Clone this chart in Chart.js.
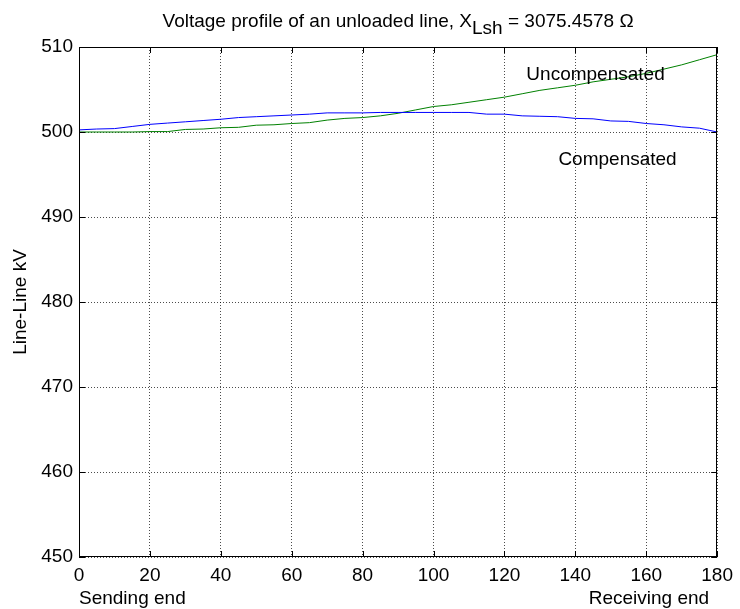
<!DOCTYPE html>
<html><head><meta charset="utf-8">
<script src="https://cdn.jsdelivr.net/npm/chart.js@4"></script>
<style>html,body{margin:0;padding:0;background:#fff}canvas{display:block}</style>
</head><body>
<canvas id="c" width="740" height="609"></canvas>
<script>
// ---- data ----
const positions = [0,5,10,15,20,25,30,35,40,45,50,55,60,65,70,75,80,85,90,95,100,105,110,115,120,125,130,135,140,145,150,155,160,165,170,175,180];
const compensated = [500.25,500.35,500.4,500.65,500.9,501.05,501.2,501.35,501.5,501.7,501.8,501.9,502.0,502.1,502.25,502.25,502.25,502.3,502.3,502.3,502.3,502.3,502.3,502.1,502.1,501.9,501.85,501.8,501.6,501.55,501.3,501.25,501.0,500.85,500.6,500.45,500.0];
const uncompensated = [500.0,500.0,500.0,500.0,500.05,500.05,500.3,500.35,500.5,500.55,500.8,500.85,501.0,501.1,501.4,501.6,501.7,501.9,502.2,502.6,503.0,503.2,503.5,503.8,504.1,504.5,504.9,505.2,505.5,505.9,506.2,506.5,506.9,507.4,507.9,508.5,509.1];
const xTicks = [0,20,40,60,80,100,120,140,160,180];
const yTicks = [450,460,470,480,490,500,510];
const seriesNames = ["Compensated","Uncompensated"];
const titleMain = "Voltage profile of an unloaded line, X";
const titleSub = "Lsh";
const titleRest = " = 3075.4578 \u03A9";
const yTitle = "Line-Line kV";
const endLabels = ["Sending end","Receiving end"];
const annotations = [
  {text:"Uncompensated", x:145.7, y:506.7},
  {text:"Compensated", x:151.9, y:496.7}
];

const FONT = "'Liberation Sans', Arial, Helvetica, sans-serif";
const FS = 19;

const decor = {
  id:'decor',
  afterDraw(chart){
    const ctx = chart.ctx, a = chart.chartArea;
    const xs = chart.scales.x, ys = chart.scales.y;
    ctx.save();
    ctx.strokeStyle = '#000'; ctx.lineWidth = 1;
    // frame
    ctx.strokeRect(Math.round(a.left)+0.5, Math.round(a.top)+0.5, Math.round(a.right-a.left)-1, Math.round(a.bottom-a.top)-1);
    // inner ticks
    ctx.beginPath();
    xTicks.forEach(v=>{
      const px = Math.round(xs.getPixelForValue(v))+0.5;
      ctx.moveTo(px, a.bottom); ctx.lineTo(px, a.bottom-6);
      ctx.moveTo(px, a.top); ctx.lineTo(px, a.top+6);
    });
    yTicks.forEach(v=>{
      const py = Math.round(ys.getPixelForValue(v))+0.5;
      ctx.moveTo(a.left, py); ctx.lineTo(a.left+6, py);
      ctx.moveTo(a.right, py); ctx.lineTo(a.right-6, py);
    });
    ctx.stroke();
    // title with subscript
    ctx.fillStyle = '#000';
    ctx.font = FS + "px " + FONT;
    ctx.textBaseline = 'alphabetic';
    const w1 = ctx.measureText(titleMain).width;
    const w2 = ctx.measureText(titleSub).width;
    const w3 = ctx.measureText(titleRest).width;
    const cx = (a.left + a.right)/2;
    let x0 = cx - (w1+w2+w3)/2;
    const base = 27;
    ctx.textAlign = 'left';
    ctx.fillText(titleMain, x0, base);
    ctx.fillText(titleSub, x0 + w1, base + 7);
    ctx.fillText(titleRest, x0 + w1 + w2, base);
    // end labels
    ctx.textBaseline = 'middle';
    ctx.textAlign = 'left';
    ctx.fillText(endLabels[0], a.left, 599);
    ctx.textAlign = 'right';
    ctx.fillText(endLabels[1], a.right - 8, 599);
    // annotations
    ctx.textAlign = 'center';
    annotations.forEach(t=>{
      ctx.fillText(t.text, xs.getPixelForValue(t.x), ys.getPixelForValue(t.y));
    });
    ctx.restore();
  }
};

new Chart(document.getElementById('c'), {
  type:'line',
  data:{
    datasets:[
      {label:seriesNames[0], data:positions.map((p,i)=>({x:p,y:compensated[i]})), borderColor:'#0000ff', borderWidth:1, pointRadius:0, tension:0, fill:false},
      {label:seriesNames[1], data:positions.map((p,i)=>({x:p,y:uncompensated[i]})), borderColor:'#008000', borderWidth:1, pointRadius:0, tension:0, fill:false}
    ]
  },
  options:{
    responsive:false, animation:false, devicePixelRatio:1,
    layout:{padding:{left:0,right:20,top:47,bottom:0}},
    plugins:{legend:{display:false}, tooltip:{enabled:false}, title:{display:false}},
    scales:{
      x:{type:'linear', min:0, max:180,
        afterBuildTicks(s){ s.ticks = xTicks.map(v=>({value:v})); },
        afterFit(s){ s.height = 52; },
        ticks:{color:'#000', font:{family:FONT, size:FS}, padding:7, maxRotation:0, autoSkip:false},
        grid:{color:'rgba(0,0,0,0.7)', lineWidth:1, drawTicks:false},
        border:{display:false, dash:[1,2]}
      },
      y:{type:'linear', min:450, max:510,
        afterBuildTicks(s){ s.ticks = yTicks.map(v=>({value:v})); },
        afterFit(s){ s.width = 79; },
        ticks:{color:'#000', font:{family:FONT, size:FS}, padding:6, autoSkip:false},
        grid:{color:'rgba(0,0,0,0.7)', lineWidth:1, drawTicks:false},
        border:{display:false, dash:[1,2]},
        title:{display:true, text:yTitle, color:'#000', font:{family:FONT, size:FS}, padding:{top:9,bottom:0}}
      }
    }
  },
  plugins:[decor]
});
</script>
</body></html>
